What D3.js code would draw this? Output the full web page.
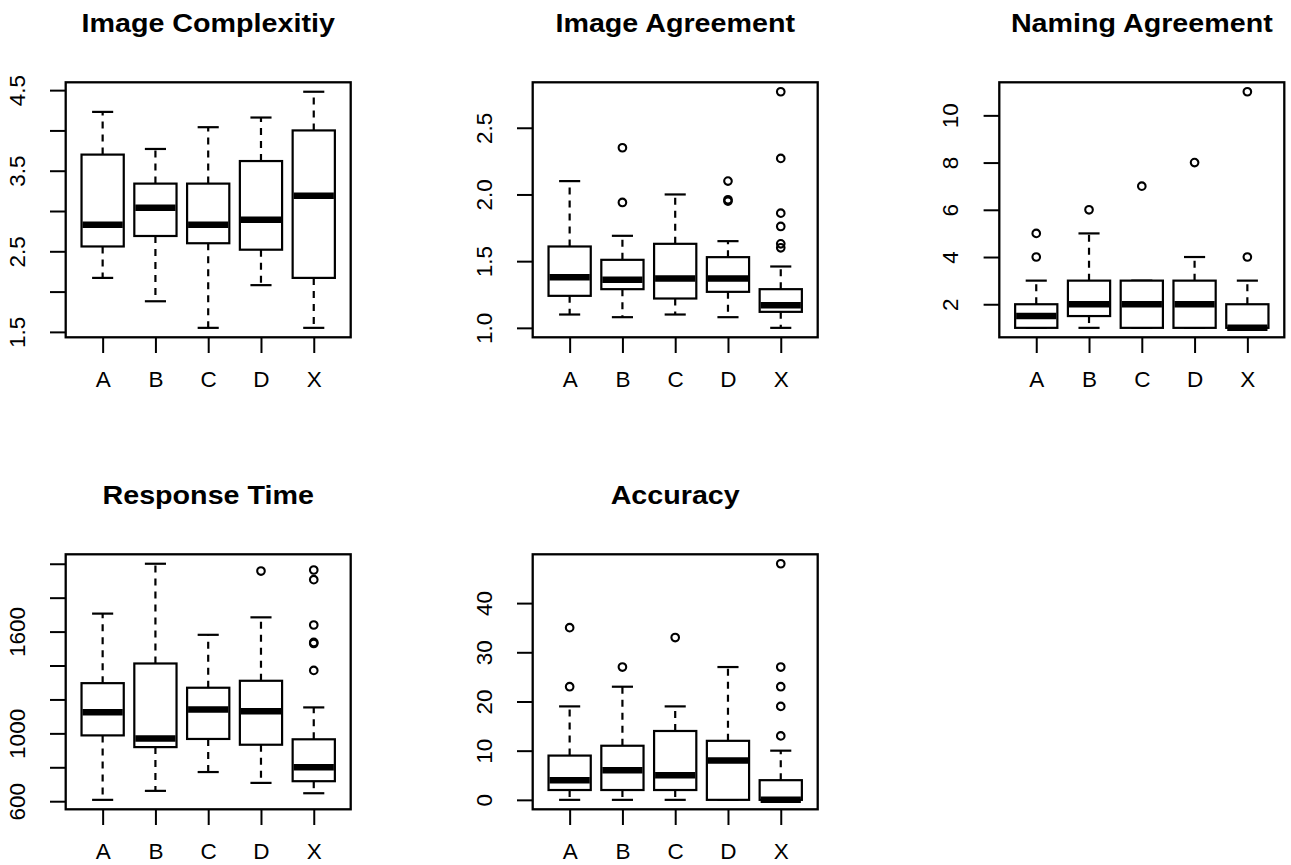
<!DOCTYPE html>
<meta charset="utf-8">
<style>

body { margin: 0; background: #fff; }
text { font-family: "Liberation Sans", Arial, sans-serif; fill: #000; }
.title { font-size: 25.5px; font-weight: bold; text-anchor: middle; }
.axis text { font-size: 22.5px; }
.axis line { stroke: #000; stroke-width: 2; }

</style>
<svg width="1291" height="865"></svg>
<script src="https://d3js.org/d3.v7.min.js"></script>
<script>

// groups on every panel
var groups = ["A", "B", "C", "D", "X"];

// box stats per group: [lower whisker, Q1, median, Q3, upper whisker]
var complexityStats = [[2.17, 2.56, 2.83, 3.70, 4.23], [1.88, 2.69, 3.04, 3.34, 3.77], [1.55, 2.60, 2.83, 3.34, 4.04], [2.08, 2.52, 2.89, 3.62, 4.16], [1.55, 2.17, 3.19, 4.00, 4.48]];
var complexityOut = [[], [], [], [], []];
var complexityTicks = [1.5, 2, 2.5, 3, 3.5, 4, 4.5];
var complexityLabels = [1.5, 2.5, 3.5, 4.5];

var imageAgrStats = [[1.10, 1.24, 1.38, 1.61, 2.10], [1.08, 1.29, 1.36, 1.51, 1.69], [1.10, 1.22, 1.37, 1.63, 2.00], [1.08, 1.27, 1.37, 1.53, 1.65], [1.00, 1.12, 1.17, 1.29, 1.46]];
var imageAgrOut = [[], [2.35, 1.94], [], [2.10, 1.96, 1.95], [2.77, 2.27, 1.86, 1.76, 1.63, 1.60]];
var imageAgrTicks = [1.0, 1.5, 2.0, 2.5];
var imageAgrLabels = [1.0, 1.5, 2.0, 2.5];

var namingStats = [[1, 1, 1.5, 2, 3], [1, 1.5, 2, 3, 5], [1, 1, 2, 3, 3], [1, 1, 2, 3, 4], [1, 1, 1, 2, 3]];
var namingOut = [[4, 5], [6], [7], [8], [4, 11]];
var namingTicks = [2, 4, 6, 8, 10];
var namingLabels = [2, 4, 6, 8, 10];

var rtStats = [[608, 988, 1125, 1296, 1706], [661, 919, 969, 1412, 2000], [772, 967, 1141, 1269, 1581], [708, 933, 1131, 1310, 1684], [647, 718, 800, 965, 1153]];
var rtOut = [[], [], [], [1957], [1963, 1906, 1639, 1536, 1530, 1371]];
var rtTicks = [600, 800, 1000, 1200, 1400, 1600, 1800, 2000];
var rtLabels = [600, 1000, 1600];

var accStats = [[0, 2, 4, 9, 19], [0, 2, 6, 11, 23], [0, 2, 5, 14, 19], [0, 0, 8, 12, 27], [0, 0, 0, 4, 10]];
var accOut = [[23, 35], [27], [33], [], [13, 19, 23, 27, 48]];
var accTicks = [0, 10, 20, 30, 40];
var accLabels = [0, 10, 20, 30, 40];

var panels = [
  {title: "Image Complexitiy", stats: complexityStats, out: complexityOut, ticks: complexityTicks, labels: complexityLabels, fmt: d3.format(".1f"), col: 0, row: 0},
  {title: "Image Agreement", stats: imageAgrStats, out: imageAgrOut, ticks: imageAgrTicks, labels: imageAgrLabels, fmt: d3.format(".1f"), col: 1, row: 0},
  {title: "Naming Agreement", stats: namingStats, out: namingOut, ticks: namingTicks, labels: namingLabels, fmt: d3.format("d"), col: 2, row: 0},
  {title: "Response Time", stats: rtStats, out: rtOut, ticks: rtTicks, labels: rtLabels, fmt: d3.format("d"), col: 0, row: 1},
  {title: "Accuracy", stats: accStats, out: accOut, ticks: accTicks, labels: accLabels, fmt: d3.format("d"), col: 1, row: 1}
];

var svg = d3.select("svg");

var colLeft = [65.7, 532.7, 999.3],
    rowTop = [82.3, 554.3],
    pw = 285,
    ph = 255;

panels.forEach(function(p) {
  var left = colLeft[p.col], top = rowTop[p.row];
  var g = svg.append("g").attr("transform", "translate(" + left + "," + top + ")");

  // R style: pad the data range by 4% on each side
  var all = d3.merge(p.stats.concat(p.out));
  var lo = d3.min(all), hi = d3.max(all), pad = (hi - lo) * 0.04;
  var y = d3.scaleLinear().domain([lo - pad, hi + pad]).range([ph, 0]);
  var x = d3.scaleLinear().domain([0.3, groups.length + 0.7]).range([0, pw]);
  var bw = (x(1) - x(0)) * 0.8;

  var box = g.selectAll(".box")
    .data(p.stats)
    .enter().append("g")
      .attr("class", "box")
      .attr("transform", function(d, i) { return "translate(" + x(i + 1) + ",0)"; });

  // whiskers
  box.append("line")
      .attr("y1", function(d) { return y(d[3]); })
      .attr("y2", function(d) { return y(d[4]); })
      .attr("stroke", "#000").attr("stroke-width", 2.2).attr("stroke-dasharray", "7,6");
  box.append("line")
      .attr("y1", function(d) { return y(d[1]); })
      .attr("y2", function(d) { return y(d[0]); })
      .attr("stroke", "#000").attr("stroke-width", 2.2).attr("stroke-dasharray", "7,6");

  // staples
  [0, 4].forEach(function(k) {
    box.append("line")
        .attr("x1", -bw / 4).attr("x2", bw / 4)
        .attr("y1", function(d) { return y(d[k]); })
        .attr("y2", function(d) { return y(d[k]); })
        .attr("stroke", "#000").attr("stroke-width", 2.2);
  });

  box.append("rect")
      .attr("x", -bw / 2)
      .attr("width", bw)
      .attr("y", function(d) { return y(d[3]); })
      .attr("height", function(d) { return y(d[1]) - y(d[3]); })
      .attr("fill", "#fff").attr("stroke", "#000").attr("stroke-width", 2.2);

  box.append("line")
      .attr("x1", -bw / 2 + 1).attr("x2", bw / 2 - 1)
      .attr("y1", function(d) { return y(d[2]); })
      .attr("y2", function(d) { return y(d[2]); })
      .attr("stroke", "#000").attr("stroke-width", 6.5);

  // outliers
  box.each(function(d, i) {
    d3.select(this).selectAll("circle")
      .data(p.out[i])
      .enter().append("circle")
        .attr("cy", function(v) { return y(v); })
        .attr("r", 3.8)
        .attr("fill", "none").attr("stroke", "#000").attr("stroke-width", 2.1);
  });

  g.append("rect")
      .attr("width", pw).attr("height", ph)
      .attr("fill", "none").attr("stroke", "#000").attr("stroke-width", 2.3);

  var ya = g.append("g")
      .attr("class", "axis")
      .call(d3.axisLeft(y).tickValues(p.ticks).tickSize(15.7)
        .tickFormat(function(d) { return p.labels.indexOf(d) >= 0 ? p.fmt(d) : ""; }));
  ya.select(".domain").remove();
  ya.selectAll("text")
      .attr("transform", "rotate(-90)")
      .attr("x", 0).attr("y", -41).attr("dy", 0)
      .attr("text-anchor", "middle");

  var xa = g.append("g")
      .attr("class", "axis")
      .attr("transform", "translate(0," + ph + ")")
      .call(d3.axisBottom(x).tickValues(d3.range(1, groups.length + 1)).tickSize(15.7)
        .tickFormat(function(i) { return groups[i - 1]; }));
  xa.select(".domain").remove();
  xa.selectAll("text").attr("y", 50).attr("dy", 0);

  svg.append("text")
      .attr("class", "title")
      .attr("transform", "translate(" + (left + pw / 2) + "," + (top - 50.8) + ") scale(1.125,1)")
      .text(p.title);
});

</script>
